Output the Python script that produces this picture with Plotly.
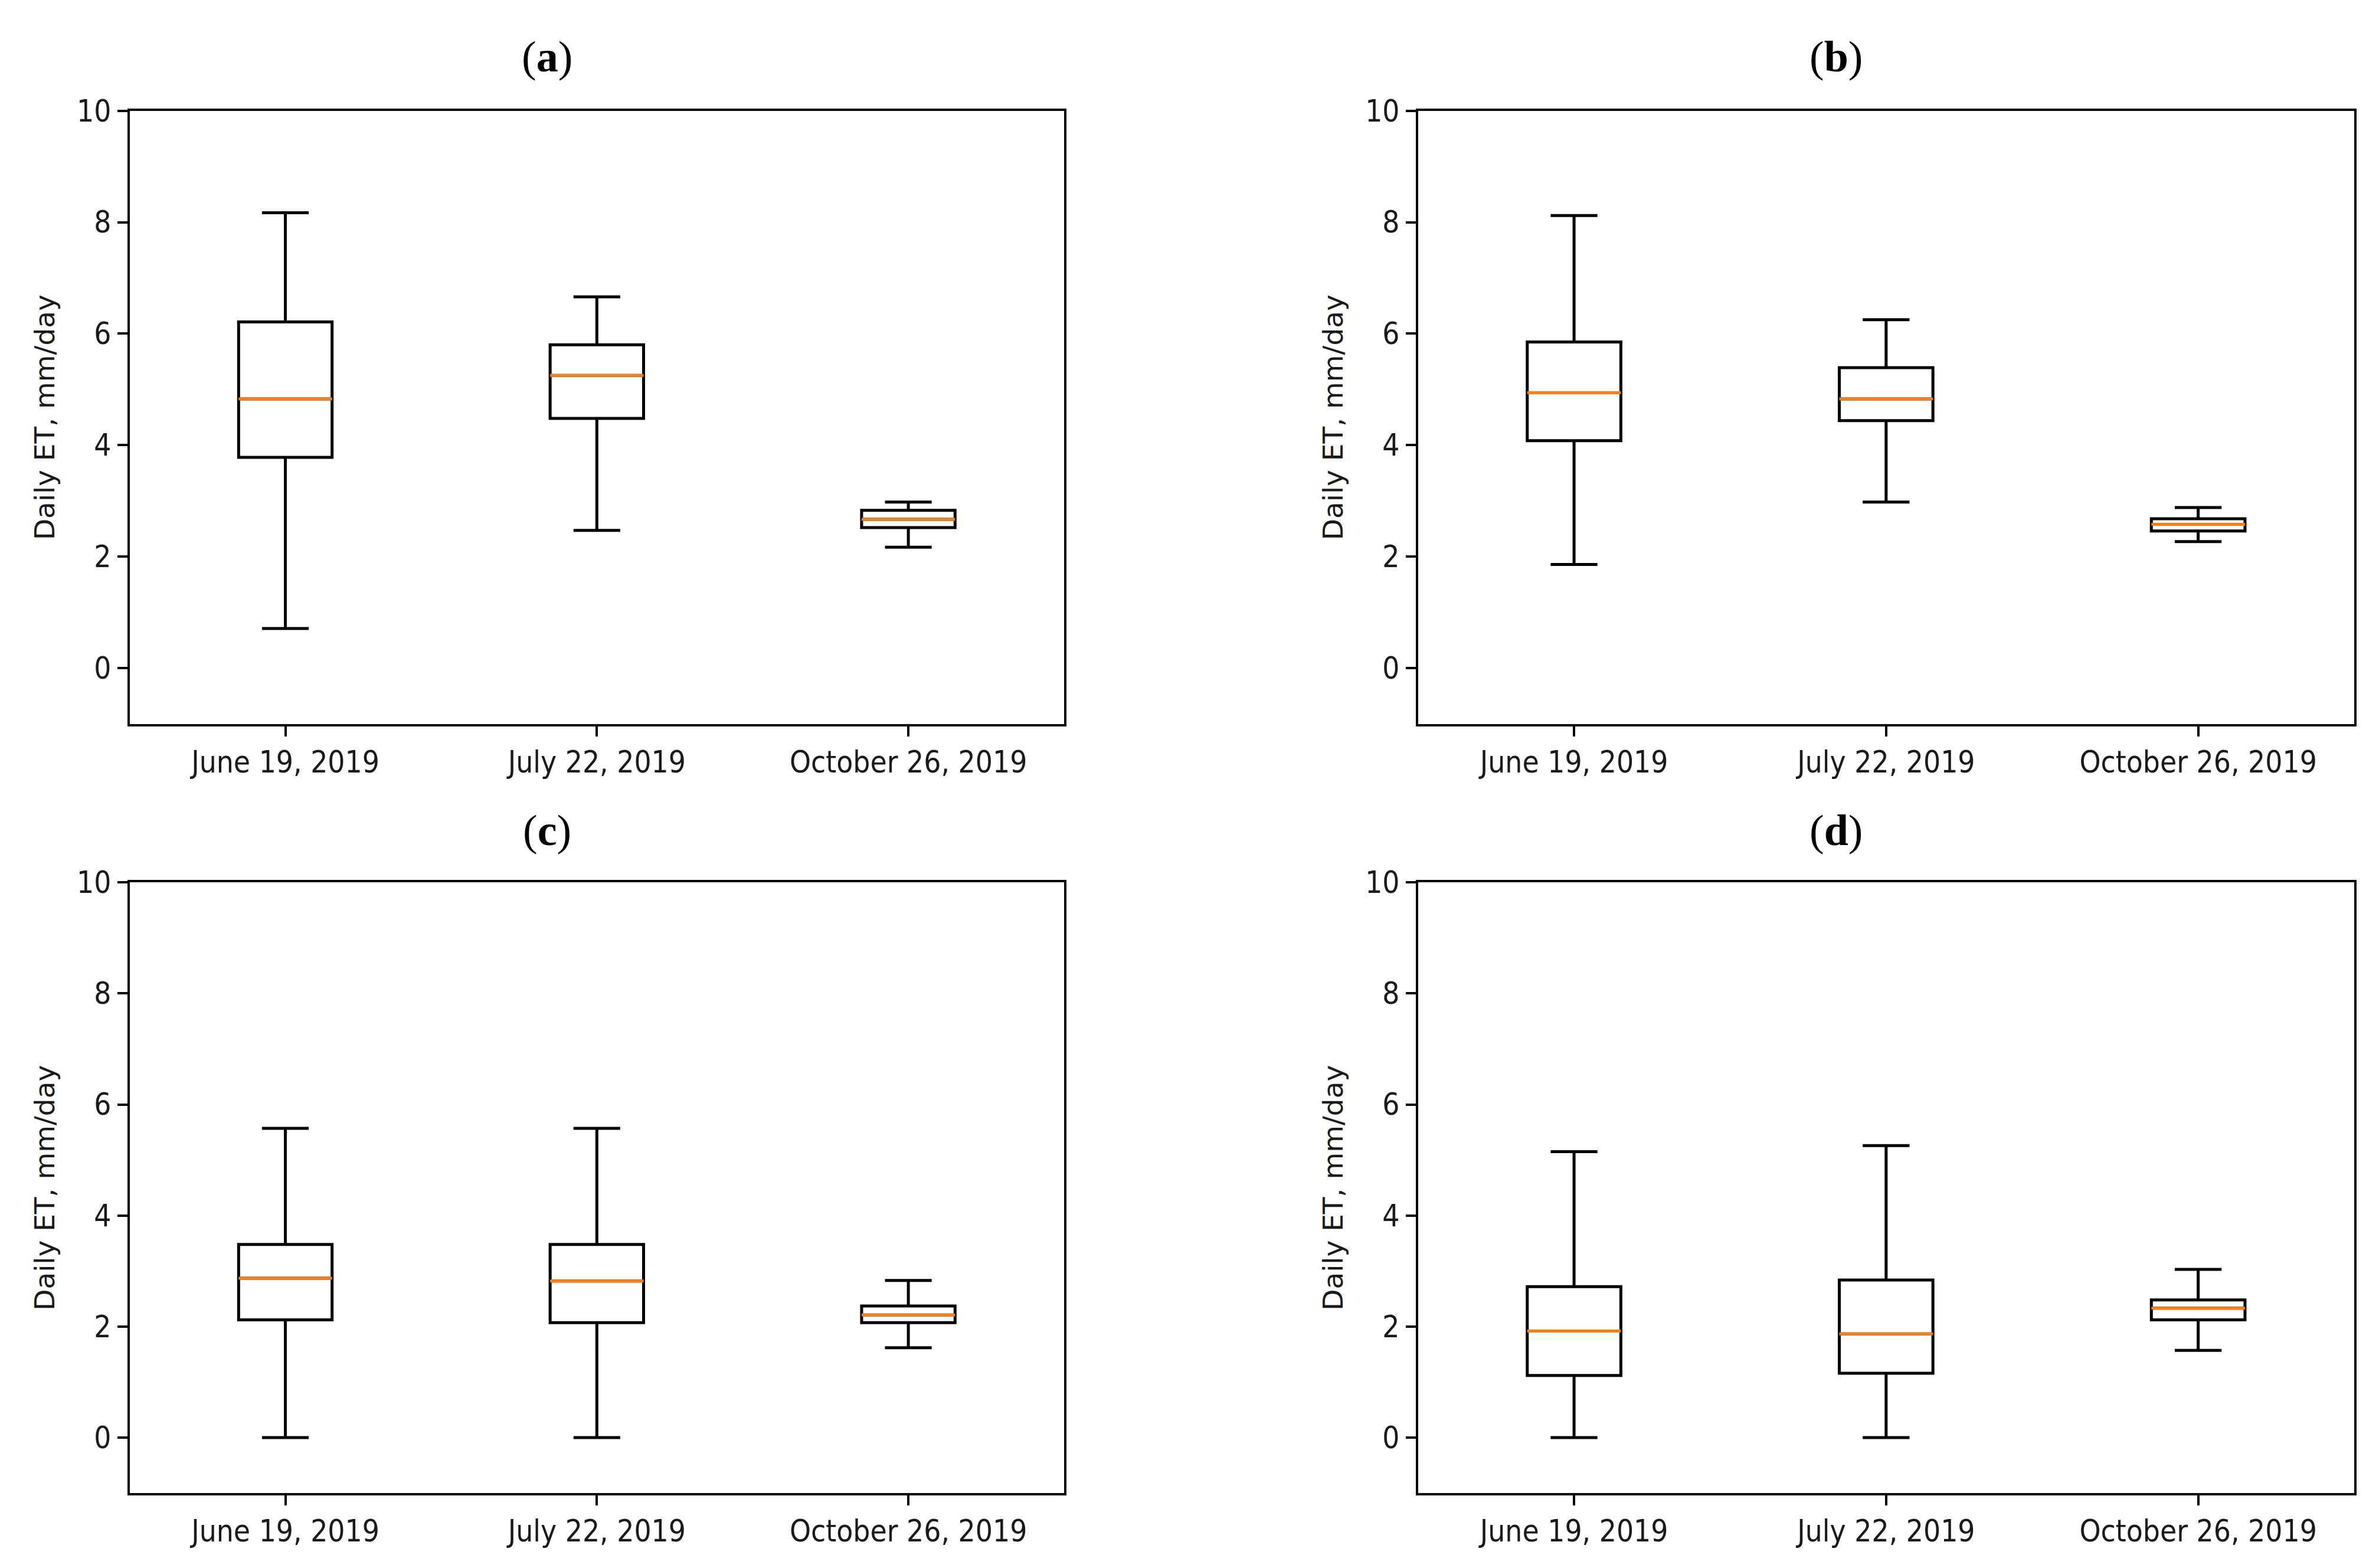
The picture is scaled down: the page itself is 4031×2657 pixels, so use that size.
import plotly.graph_objects as go

# ---------------- data ----------------
categories = ["June 19, 2019", "July 22, 2019", "October 26, 2019"]
positions = [1, 2, 3]
panel_labels = ["a", "b", "c", "d"]

# per panel: lower whisker, Q1, median, Q3, upper whisker
a_low = [0.71, 2.47, 2.17]
a_q1 = [3.78, 4.48, 2.52]
a_med = [4.83, 5.25, 2.67]
a_q3 = [6.21, 5.80, 2.83]
a_high = [8.17, 6.66, 2.98]

b_low = [1.86, 2.98, 2.27]
b_q1 = [4.08, 4.44, 2.46]
b_med = [4.94, 4.83, 2.58]
b_q3 = [5.85, 5.39, 2.68]
b_high = [8.12, 6.25, 2.88]

c_low = [0.0, 0.0, 1.62]
c_q1 = [2.12, 2.07, 2.07]
c_med = [2.87, 2.82, 2.21]
c_q3 = [3.48, 3.48, 2.37]
c_high = [5.57, 5.57, 2.83]

d_low = [0.0, 0.0, 1.57]
d_q1 = [1.12, 1.16, 2.12]
d_med = [1.92, 1.87, 2.33]
d_q3 = [2.72, 2.84, 2.48]
d_high = [5.15, 5.26, 3.03]

y_ticks = [0, 2, 4, 6, 8, 10]
y_title = "Daily ET, mm/day"

panels = [
    (a_low, a_q1, a_med, a_q3, a_high),
    (b_low, b_q1, b_med, b_q3, b_high),
    (c_low, c_q1, c_med, c_q3, c_high),
    (d_low, d_q1, d_med, d_q3, d_high),
]

# ---------------- layout geometry ----------------
PAGE_W, PAGE_H = 4031, 2657
W, H = PAGE_W - 16, PAGE_H - 34
OFF_X = 8
Y_OFF, Y_SCALE = 34.6, 0.9938  # empirical page placement


def fy(d):
    return (d - Y_OFF) / Y_SCALE


col_x = [(219.6, 1803), (2402.7, 3989)]
row_y = [(186, 1230), (1500, 2540)]
title_pos = [(927, 94), (3111, 94), (927, 1411), (3111, 1411)]

BOX_W = 0.3
LW = 5
AX_LW = 4
tick_font = dict(family="DejaVu Sans Condensed, DejaVu Sans", size=51, color="#1a1a1a")

fig = go.Figure()
layout = dict(
    width=W, height=H,
    margin=dict(l=0, r=0, t=0, b=0),
    paper_bgcolor="white", plot_bgcolor="white",
    showlegend=False,
    annotations=[],
)

for i, (low, q1, med, q3, high) in enumerate(panels):
    r, c = divmod(i, 2)
    n = i + 1
    xa = "x" if n == 1 else f"x{n}"
    ya = "y" if n == 1 else f"y{n}"
    fig.add_trace(go.Box(
        x=positions, q1=q1, median=med, q3=q3,
        lowerfence=low, upperfence=high,
        width=BOX_W, whiskerwidth=0.5,
        line=dict(color="black", width=LW),
        fillcolor="rgba(255,255,255,0)",
        boxpoints=False, hoverinfo="skip",
        xaxis=xa, yaxis=ya,
    ))
    mx, my = [], []
    for p, m in zip(positions, med):
        mx += [p - BOX_W / 2, p + BOX_W / 2, None]
        my += [m, m, None]
    fig.add_trace(go.Scatter(
        x=mx, y=my, mode="lines",
        line=dict(color="#ff7f0e", width=LW),
        hoverinfo="skip", xaxis=xa, yaxis=ya,
    ))
    x0, x1 = [v - OFF_X for v in col_x[c]]
    y0, y1 = [fy(v) for v in row_y[r]]
    axis_common = dict(
        showline=True, mirror=True, linecolor="black", linewidth=AX_LW,
        ticks="outside", ticklen=17, tickwidth=AX_LW, tickcolor="black",
        showgrid=False, zeroline=False, tickfont=tick_font,
    )
    layout["xaxis" if n == 1 else f"xaxis{n}"] = dict(
        domain=[x0 / W, x1 / W], range=[0.5, 3.5],
        tickmode="array", tickvals=positions, ticktext=categories,
        anchor=ya, **axis_common,
    )
    layout["yaxis" if n == 1 else f"yaxis{n}"] = dict(
        domain=[1 - y1 / H, 1 - y0 / H], range=[-1, 10],
        tickmode="array", tickvals=y_ticks, ticktext=[str(t) for t in y_ticks],
        anchor=xa,
        title=dict(text=y_title, font=dict(family="DejaVu Sans", size=47, color="#1a1a1a"), standoff=24),
        **axis_common,
    )
    tx, ty = title_pos[i]
    layout["annotations"].append(dict(
        text=f"(<b>{panel_labels[i]}</b>)", xref="paper", yref="paper",
        x=(tx - OFF_X) / W, y=1 - fy(ty) / H, xanchor="center", yanchor="middle",
        showarrow=False,
        font=dict(family="Liberation Serif, Times New Roman, serif", size=74, color="black"),
    ))

fig.update_layout(**layout)
fig.write_html("out.html")
